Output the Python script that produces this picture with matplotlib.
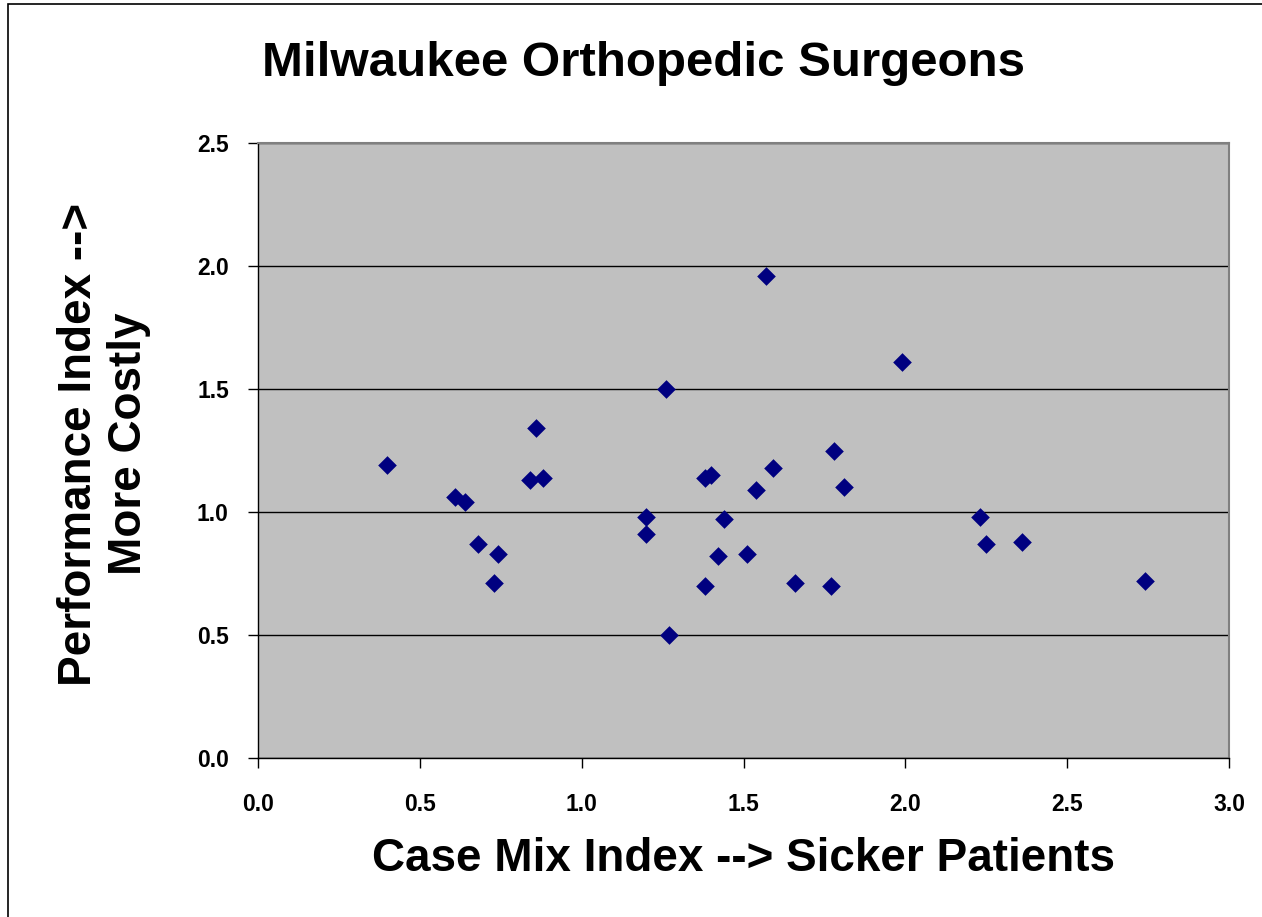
import matplotlib.pyplot as plt
from matplotlib.patches import Rectangle

# Case mix index (x) vs performance index (y)
case_mix = [0.40, 0.61, 0.64, 0.68, 0.74, 0.73, 0.86, 0.84, 0.88,
            1.20, 1.20, 1.26, 1.27, 1.38, 1.40, 1.44, 1.42, 1.38,
            1.51, 1.54, 1.57, 1.59, 1.66, 1.78, 1.77, 1.81, 1.99,
            2.23, 2.25, 2.36, 2.74]
performance = [1.19, 1.06, 1.04, 0.87, 0.83, 0.71, 1.34, 1.13, 1.14,
               0.98, 0.91, 1.50, 0.50, 1.14, 1.15, 0.97, 0.82, 0.70,
               0.83, 1.09, 1.96, 1.18, 0.71, 1.25, 0.70, 1.10, 1.61,
               0.98, 0.87, 0.88, 0.72]

x_ticks = [0.0, 0.5, 1.0, 1.5, 2.0, 2.5, 3.0]
y_ticks = [0.0, 0.5, 1.0, 1.5, 2.0, 2.5]

plt.rcParams['font.family'] = ['Liberation Sans', 'DejaVu Sans']
plt.rcParams['font.weight'] = 'bold'

fig = plt.figure(figsize=(12.62, 9.17), dpi=100)
fig.patches.append(Rectangle((8 / 1262, -0.1), 1.2, 1.1 - 4 / 917,
                             transform=fig.transFigure, fill=False,
                             edgecolor='black', linewidth=1.2))

ax = fig.add_axes([258 / 1262, 1 - 758 / 917, (1229 - 258) / 1262, (758 - 143) / 917])
ax.set_facecolor('#C0C0C0')
ax.scatter(case_mix, performance, marker='D', s=9.5 ** 2, color='#000080',
           linewidths=0, zorder=3)

ax.set_xlim(0, 3.0)
ax.set_ylim(0, 2.5)
ax.set_xticks(x_ticks)
ax.set_yticks(y_ticks)
ax.set_xticklabels([f"{t:.1f}" for t in x_ticks])
ax.set_yticklabels([f"{t:.1f}" for t in y_ticks])
ax.tick_params(axis='both', labelsize=16.5, length=7, width=1, direction='out')
ax.tick_params(axis='x', pad=18)
ax.tick_params(axis='y', pad=14)
ax.yaxis.grid(True, color='black', linewidth=1)
ax.set_axisbelow(True)

for side in ['top', 'right']:
    ax.spines[side].set_color('#808080')
    ax.spines[side].set_linewidth(1.5)
for side in ['left', 'bottom']:
    ax.spines[side].set_color('black')
    ax.spines[side].set_linewidth(1)

fig.text(644 / 1262, 1 - 64 / 917, "Milwaukee Orthopedic Surgeons",
         ha='center', va='center', fontsize=35.5, fontweight='bold')
fig.text(743 / 1262, 1 - 859 / 917, "Case Mix Index --> Sicker Patients",
         ha='center', va='center', fontsize=33, fontweight='bold')
fig.text(104 / 1262, 1 - 444 / 917, "Performance Index -->\nMore Costly",
         ha='center', va='center', rotation=90, fontsize=33,
         fontweight='bold', linespacing=1.15)

fig.savefig('out.png', dpi=100)
